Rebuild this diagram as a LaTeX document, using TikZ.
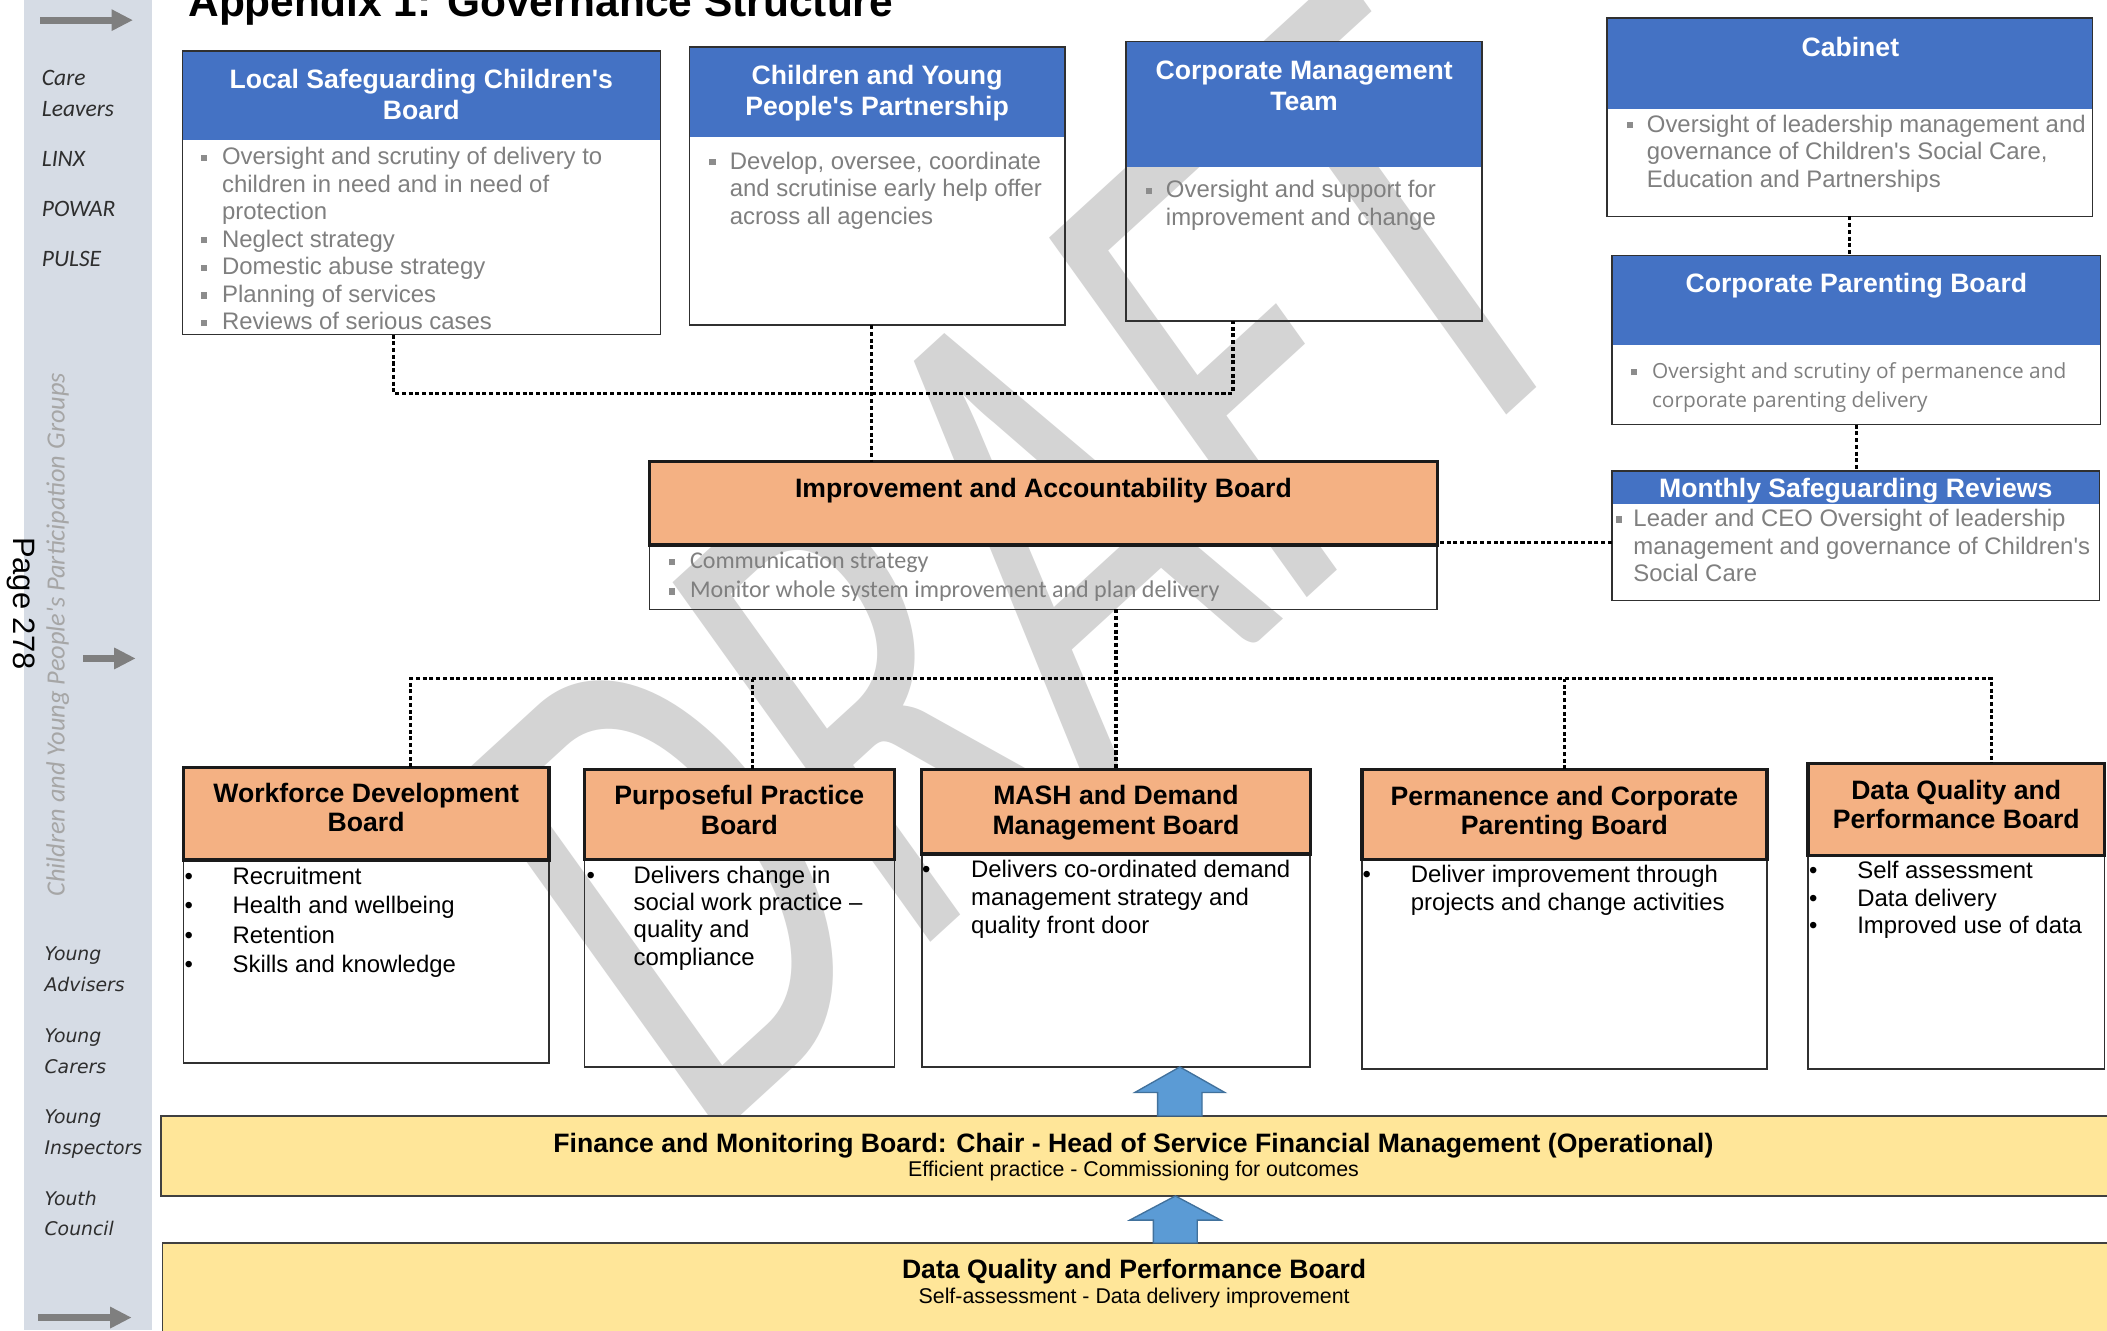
\documentclass[tikz,border=0pt]{standalone}
\usepackage{fontspec}
\usepackage{graphicx}
\setmainfont{Liberation Sans}[Ligatures=TeXOff]
\newfontfamily\carlito{Carlito}[Ligatures=TeXOff]
\newfontfamily\opensans{Open Sans}[Ligatures=TeXOff]
\newfontfamily\dejavu{DejaVu Sans}[Ligatures=TeXOff]
\usetikzlibrary{arrows.meta}
\definecolor{sidebar}{HTML}{D6DCE5}
\definecolor{hdrblue}{HTML}{4472C4}
\definecolor{hdrorange}{HTML}{F4B183}
\definecolor{baryellow}{HTML}{FFE699}
\definecolor{txtgray}{HTML}{7F7F7F}
\definecolor{bulgray}{HTML}{8C8C8C}
\definecolor{arrowgray}{HTML}{7F7F7F}
\definecolor{wmgray}{HTML}{D4D4D4}
\definecolor{blockblue}{HTML}{5B9BD5}
\definecolor{blockedge}{HTML}{41719C}
\definecolor{sidetext}{HTML}{2E2E2E}
\definecolor{sidelight}{HTML}{A6A6A6}
\definecolor{boxedge}{HTML}{303030}
\definecolor{orgedge}{HTML}{1A1A1A}
\definecolor{baredge}{HTML}{404040}
\newcommand\tstrut{\rule{0pt}{0.8em}}
\newcommand\hind[1]{\hspace*{#1}}
\newcommand\sqbul[2]{\makebox[#1][l]{\textcolor{bulgray}{\rule[#2]{4.6pt}{4.6pt}}}}
\newcommand\dotbul[1]{\makebox[#1][l]{\textbullet}}
\begin{document}
\begin{tikzpicture}[x=1pt,y=-1pt,
  bodybox/.style={draw=boxedge, line width=1.1pt, anchor=north west, inner sep=0pt, outer sep=0pt},
  bluehdr/.style={fill=hdrblue, draw=none, anchor=north west, inner sep=0pt, outer sep=0pt},
  orghdr/.style={fill=hdrorange, draw=orgedge, line width=2.4pt, anchor=north west, inner sep=0pt, outer sep=0pt},
  ybar/.style={fill=baryellow, draw=baredge, line width=1.3pt, anchor=north west, inner sep=0pt, outer sep=0pt},
  whitehdr/.style={text=white, font=\bfseries\fontsize{19.8}{23}\selectfont, align=center, inner sep=0pt},
  blackhdr/.style={text=black, font=\bfseries\fontsize{19.8}{22}\selectfont, align=center, inner sep=0pt},
  graylist/.style={text=txtgray, anchor=north west, align=left, inner sep=0pt},
  blklist/.style={text=black, anchor=north west, align=left, inner sep=0pt},
  dotline/.style={draw=black, line width=2.3pt, dash pattern=on 3pt off 2pt},
  blockarrow/.style={fill=blockblue, draw=blockedge, line width=1pt, line join=miter},
  sidearrow/.style={draw=arrowgray, line width=5pt, -{Triangle[length=16pt,width=15pt]}},
  sidelbl/.style={text=sidetext, font=\carlito\itshape\fontsize{17.5}{20}\selectfont, anchor=base west, inner sep=0pt},
  younglbl/.style={text=sidetext, font=\dejavu\itshape\fontsize{14}{16}\selectfont, anchor=base west, inner sep=0pt}]
\useasboundingbox (0,0) rectangle (1568,990);
\fill[white] (0,0) rectangle (1568,990);

% sidebar
\fill[sidebar] (18,0) rectangle (113,990);

% watermark
\begin{scope}[shift={(761,417)}, yscale=1.13]
\node[text=wmgray, font=\carlito\fontsize{475}{475}\selectfont, inner sep=0pt, rotate=39, transform shape] (draftmark) at (0,0) {\scalebox{0.68}[1]{DRAFT}};
\end{scope}

% title
\node[anchor=base west, font=\bfseries\fontsize{31.6}{34}\selectfont, inner sep=0pt] (title) at (140,12.5) {Appendix 1: Governance Structure};

% ---------- upper blue boxes ----------
\node[bluehdr, minimum width=355.5pt, minimum height=66.5pt] (lscbh) at (136,38) {};
\node[bodybox, minimum width=355.5pt, minimum height=211pt] (lscb) at (136,38) {};
\node[bluehdr, minimum width=279.5pt, minimum height=67pt] (cypph) at (513,35) {};
\node[bodybox, minimum width=279.5pt, minimum height=207pt] (cypp) at (513,35) {};
\node[bluehdr, minimum width=265pt, minimum height=93.5pt] (cmth) at (838,31) {};
\node[bodybox, minimum width=265pt, minimum height=208pt] (cmt) at (838,31) {};
\node[bluehdr, minimum width=361pt, minimum height=67.5pt] (cabh) at (1196,13.5) {};
\node[bodybox, minimum width=361pt, minimum height=147.5pt] (cab) at (1196,13.5) {};
\node[bluehdr, minimum width=364.5pt, minimum height=67pt] (cpbh) at (1199,190) {};
\node[bodybox, minimum width=363.5pt, minimum height=126pt] (cpb) at (1199.5,190) {};
\node[bluehdr, minimum width=363.5pt, minimum height=24.5pt] (msrh) at (1199,350.5) {};
\node[bodybox, minimum width=363pt, minimum height=96.5pt] (msr) at (1199.5,350.5) {};

% ---------- orange boxes ----------
\node[bodybox, minimum width=586pt, minimum height=110pt] (iab) at (483.5,343.5) {};
\node[orghdr, minimum width=586pt, minimum height=62pt] (iabh) at (483.5,343.5) {};
\node[bodybox, minimum width=272pt, minimum height=220pt] (wdb) at (136.5,571) {};
\node[orghdr, minimum width=272pt, minimum height=69pt] (wdbh) at (136.5,571) {};
\node[bodybox, minimum width=230.5pt, minimum height=221.5pt] (ppb) at (435,572.5) {};
\node[orghdr, minimum width=230.5pt, minimum height=67pt] (ppbh) at (435,572.5) {};
\node[bodybox, minimum width=289pt, minimum height=221.5pt] (mash) at (686,572.5) {};
\node[orghdr, minimum width=289pt, minimum height=63pt] (mashh) at (686,572.5) {};
\node[bodybox, minimum width=301.5pt, minimum height=223pt] (pcpb) at (1013.5,572.5) {};
\node[orghdr, minimum width=301.5pt, minimum height=67pt] (pcpbh) at (1013.5,572.5) {};
\node[bodybox, minimum width=220.5pt, minimum height=227.5pt] (dqpb) at (1345.5,568) {};
\node[orghdr, minimum width=220.5pt, minimum height=68.5pt] (dqpbh) at (1345.5,568) {};

% ---------- yellow bars ----------
\node[ybar, minimum width=1452pt, minimum height=59.5pt] (fin) at (120,830.5) {};
\node[ybar, minimum width=1452pt, minimum height=80pt] (dqb) at (121,925) {};

% ---------- dotted connectors ----------
\coordinate (jtop) at (292.5,292.5);
\draw[dotline] (lscb.south -| jtop) |- ([xshift=-52.9pt]cmt.south |- jtop) -- ([xshift=-52.9pt]cmt.south);
\draw[dotline] ([xshift=-4.4pt]cypp.south) -- ([xshift=-4.4pt]cypp.south |- iab.north);
\draw[dotline] (cab.south) -- (cab.south |- cpb.north);
\draw[dotline] (cpb.south) -- (cpb.south |- msr.north);
\draw[dotline] ([yshift=-5.2pt]msr.west) -- ([yshift=-5.2pt]msr.west -| iab.east);
\coordinate (busL) at (305.6,505);
\coordinate (busR) at (1482.2,505);
\draw[dotline] (mash.north |- iab.south) -- (mash.north);
\draw[dotline] ([xshift=33.1pt]wdb.north) |- (busR) -- ([xshift=26.45pt]dqpb.north);
\draw[dotline] ([xshift=9.85pt]ppb.north) -- ([xshift=9.85pt]ppb.north |- busL);
\draw[dotline] (pcpb.north) -- (pcpb.north |- busL);

% ---------- block arrows ----------
\draw[blockarrow] (878,794) -- (911.5,813) -- (894.5,813) -- (894.5,830.5) -- (861.5,830.5) -- (861.5,813) -- (844.5,813) -- cycle;
\draw[blockarrow] (874.7,890) -- (908.5,908) -- (891,908) -- (891,925) -- (858.3,925) -- (858.3,908) -- (840.7,908) -- cycle;

% ---------- sidebar arrows ----------
\coordinate (a1s) at (30,15); \coordinate (a1e) at (99,15);
\coordinate (a2s) at (62,490); \coordinate (a2e) at (101,490);
\coordinate (a3s) at (28.5,980.5); \coordinate (a3e) at (98,980.5);
\draw[sidearrow] (a1s) -- (a1e);
\draw[sidearrow] (a2s) -- (a2e);
\draw[sidearrow] (a3s) -- (a3e);

% ---------- sidebar texts ----------
\node[sidelbl] (care) at (31,63.5) {Care};
\node[sidelbl] (leavers) at (31,86.5) {Leavers};
\node[sidelbl] (linx) at (31,124) {LINX};
\node[sidelbl] (powar) at (31,161) {POWAR};
\node[sidelbl] (pulse) at (31,198) {PULSE};
\node[rotate=90, text=sidelight, font=\carlito\itshape\fontsize{19.6}{21}\selectfont, inner sep=0pt] (cyppg) at (43,472.5) {Children and Young People's Participation Groups};
\node[rotate=-90, font=\fontsize{23}{24}\selectfont, inner sep=0pt] (pagenum) at (16,449) {Page 278};
\node[younglbl] (ya1) at (33,714.8) {Young};
\node[younglbl] (ya2) at (33,737.8) {Advisers};
\node[younglbl] (yc1) at (33,775.8) {Young};
\node[younglbl] (yc2) at (33,798.8) {Carers};
\node[younglbl] (yi1) at (33,835.8) {Young};
\node[younglbl] (yi2) at (33,858.8) {Inspectors};
\node[younglbl] (yu1) at (33,896.8) {Youth};
\node[younglbl] (yu2) at (33,919.8) {Council};

% ---------- header texts ----------
\node[whitehdr] (lscbt) at (313.5,70.2) {Local Safeguarding Children's\\Board};
\node[whitehdr] (cyppt) at (652.7,69.3) {Children and Young\\People's Partnership};
\node[whitehdr] (cmtt) at (970.5,63.6) {Corporate Management\\Team};
\node[whitehdr] (cabt) at (1377,34.7) {Cabinet};
\node[whitehdr] (cpbt) at (1381.5,212.5) {Corporate Parenting Board};
\node[whitehdr] (msrt) at (1381,365.3) {Monthly Safeguarding Reviews};
\node[blackhdr] (iabt) at (776.5,365) {Improvement and Accountability Board};
\node[blackhdr] (wdbt) at (272.5,600.9) {Workforce Development\\Board};
\node[blackhdr] (ppbt) at (550.2,602.6) {Purposeful Practice\\Board};
\node[blackhdr] (masht) at (830.5,604.9) {MASH and Demand\\Management Board};
\node[blackhdr] (pcpbt) at (1164.2,605.2) {Permanence and Corporate\\Parenting Board};
\node[blackhdr] (dqpbt) at (1455.8,598.8) {Data Quality and\\Performance Board};

% ---------- grey bullet lists ----------
\node[graylist, font=\fontsize{17.8}{20.5}\selectfont] (lscbl) at (149.6,108) {\tstrut\sqbul{15.5pt}{2.8pt}Oversight and scrutiny of delivery to\\\hind{15.5pt}children in need and in need of\\\hind{15.5pt}protection\\\sqbul{15.5pt}{2.8pt}Neglect strategy\\\sqbul{15.5pt}{2.8pt}Domestic abuse strategy\\\sqbul{15.5pt}{2.8pt}Planning of services\\\sqbul{15.5pt}{2.8pt}Reviews of serious cases};
\node[graylist, font=\fontsize{17.8}{20.5}\selectfont] (cyppl) at (527.7,111.5) {\tstrut\sqbul{15.2pt}{2.8pt}Develop, oversee, coordinate\\\hind{15.2pt}and scrutinise early help offer\\\hind{15.2pt}across all agencies};
\node[graylist, font=\fontsize{17.8}{21}\selectfont] (cmtl) at (852.4,132.5) {\tstrut\sqbul{15.1pt}{2.8pt}Oversight and support for\\\hind{15.1pt}improvement and change};
\node[graylist, font=\fontsize{17.8}{20.6}\selectfont] (cabl) at (1210.6,83.8) {\tstrut\sqbul{14.8pt}{2.8pt}Oversight of leadership management and\\\hind{14.8pt}governance of Children's Social Care,\\\hind{14.8pt}Education and Partnerships};
\node[graylist, font=\opensans\fontsize{15.5}{21.8}\selectfont] (cpbl) at (1213.4,268.9) {\tstrut\sqbul{15.8pt}{2.2pt}Oversight and scrutiny of permanence and\\\hind{15.8pt}corporate parenting delivery};
\node[graylist, font=\fontsize{17.8}{20.6}\selectfont] (msrl) at (1202.5,377.3) {\tstrut\sqbul{12.9pt}{2.8pt}Leader and CEO Oversight of leadership\\\hind{12.9pt}management and governance of Children's\\\hind{12.9pt}Social Care};
\node[graylist, font=\carlito\fontsize{17.9}{21.6}\selectfont] (iabl) at (497.7,408.6) {\tstrut\sqbul{15.6pt}{2.3pt}Communication strategy\\\sqbul{15.6pt}{2.3pt}Monitor whole system improvement and plan delivery};

% ---------- black bullet lists ----------
\node[blklist, font=\fontsize{17.8}{21.7}\selectfont] (wdbl) at (137.2,644) {\tstrut\dotbul{35.7pt}Recruitment\\\dotbul{35.7pt}Health and wellbeing\\\dotbul{35.7pt}Retention\\\dotbul{35.7pt}Skills and knowledge};
\node[blklist, font=\fontsize{17.8}{20.3}\selectfont] (ppbl) at (436.4,642.8) {\tstrut\dotbul{35pt}Delivers change in\\\hind{35pt}social work practice –\\\hind{35pt}quality and\\\hind{35pt}compliance};
\node[blklist, font=\fontsize{17.8}{20.6}\selectfont] (mashl) at (686.1,638.7) {\tstrut\dotbul{36.4pt}Delivers co-ordinated demand\\\hind{36.4pt}management strategy and\\\hind{36.4pt}quality front door};
\node[blklist, font=\fontsize{17.8}{21}\selectfont] (pcpbl) at (1013.8,642.5) {\tstrut\dotbul{35.9pt}Deliver improvement through\\\hind{35.9pt}projects and change activities};
\node[blklist, font=\fontsize{17.8}{20.5}\selectfont] (dqpbl) at (1346.1,639.6) {\tstrut\dotbul{35.9pt}Self assessment\\\dotbul{35.9pt}Data delivery\\\dotbul{35.9pt}Improved use of data};

% ---------- bar texts ----------
\node[anchor=base, font=\bfseries\fontsize{19.8}{22}\selectfont, inner sep=0pt] (fint) at (843.5,857.5) {Finance and Monitoring Board: Chair - Head of Service Financial Management (Operational)};
\node[anchor=base, font=\fontsize{15.9}{18}\selectfont, inner sep=0pt] (fins) at (843.5,875.8) {Efficient practice - Commissioning for outcomes};
\node[anchor=base, font=\bfseries\fontsize{19.8}{22}\selectfont, inner sep=0pt] (dqbt) at (844,951.8) {Data Quality and Performance Board};
\node[anchor=base, font=\fontsize{15.9}{18}\selectfont, inner sep=0pt] (dqbs) at (844,970) {Self-assessment - Data delivery improvement};
\end{tikzpicture}
\end{document}
